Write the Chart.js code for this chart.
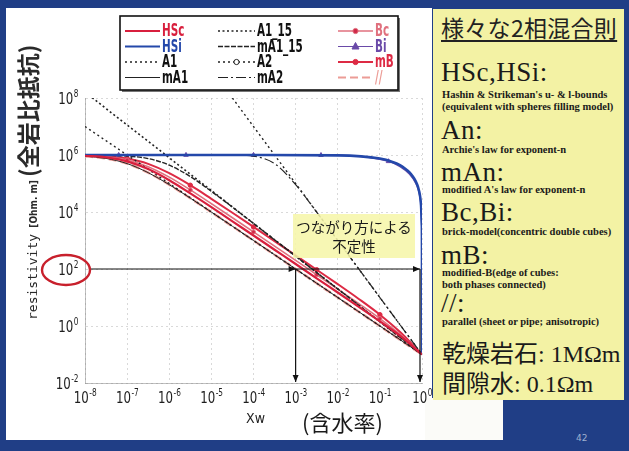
<!DOCTYPE html>
<html>
<head>
<meta charset="utf-8">
<script src="https://cdn.jsdelivr.net/npm/chart.js@4.4.1/dist/chart.umd.min.js"></script>
<style>
  html, body { margin: 0; padding: 0; }
  body { width: 629px; height: 451px; background: #203e86; position: relative; overflow: hidden; }
  .a { position: absolute; white-space: nowrap; }
  #panel { left: 6px; top: 8px; width: 426px; height: 432px; background: #fff; }
  #panel2 { left: 425px; top: 398px; width: 78px; height: 42px; background: #fbfbf8; }
  #side { left: 433px; top: 9px; width: 191px; height: 391px; background: #f3f2a4; }
  #wrap { left: 0; top: 0; width: 432px; height: 440px; }
  #ytitle { left: -128px; top: 150px; width: 310px; height: 30px; line-height: 30px; transform: rotate(-90deg); color: #2a2a2a; }
  .mono { font-family: "DejaVu Sans Mono", monospace; font-size: 13px; }
  .oh { font-family: "DejaVu Sans Condensed", sans-serif; font-size: 10px; font-weight: bold; }
  .jp { font-family: "Noto Sans CJK JP", sans-serif; font-weight: bold; }
  .nar { font-family: "Liberation Sans Narrow", "DejaVu Sans Condensed", sans-serif; }
  .serif { font-family: "Liberation Serif", "DejaVu Serif", serif; color: #1a1a1a; }
  .small { font-size: 10.5px; font-weight: bold; line-height: 12px; }
  .big { font-size: 27px; line-height: 28px; letter-spacing: 0.5px; }
  #note { left: 293px; top: 214px; width: 122px; height: 44px; background: rgba(246,246,170,0.88);
          font-family: "Noto Sans CJK JP", sans-serif; font-size: 14.5px; line-height: 19px; text-align: center; color: #1a1a1a; padding-top: 3px; box-sizing: border-box; }
</style>
</head>
<body>
<div id="panel" class="a"></div>
<div id="panel2" class="a"></div>
<div id="side" class="a"></div>
<div id="wrap" class="a"><canvas id="chart"></canvas></div>

<div id="ytitle" class="a"><span class="mono">resistivity</span><span class="oh">&nbsp;&nbsp;[Ohm. m]&nbsp;</span><span class="jp" style="font-size:23px">(全岩比抵抗)</span></div>
<div class="a nar" style="left:246px;top:410px;font-size:14px;color:#222">Xw</div>
<div class="a jp" style="left:302px;top:405px;font-size:22px;font-weight:normal;color:#1a1a1a">(含水率)</div>
<div id="note" class="a">つながり方による<br>不定性</div>

<div class="a jp" style="left:441px;top:10px;font-size:23px;font-weight:normal;letter-spacing:0.3px;color:#222;text-decoration:underline;text-underline-offset:3px">様々な2相混合則</div>
<div class="a serif big" style="left:441px;top:58px">HSc,HSi:</div>
<div class="a serif small" style="left:442px;top:89px">Hashin &amp; Strikeman's u- &amp; l-bounds</div>
<div class="a serif small" style="left:442px;top:101px">(equivalent with spheres filling model)</div>
<div class="a serif big" style="left:441px;top:116px">An:</div>
<div class="a serif small" style="left:442px;top:144px">Archie's law for exponent-n</div>
<div class="a serif big" style="left:441px;top:158px">mAn:</div>
<div class="a serif small" style="left:442px;top:184px">modified A's law for exponent-n</div>
<div class="a serif big" style="left:441px;top:198px">Bc,Bi:</div>
<div class="a serif small" style="left:442px;top:226px">brick-model(concentric double cubes)</div>
<div class="a serif big" style="left:441px;top:241px">mB:</div>
<div class="a serif small" style="left:442px;top:267px">modified-B(edge of cubes:</div>
<div class="a serif small" style="left:442px;top:279px">both phases connected)</div>
<div class="a serif big" style="left:441px;top:289px">//:</div>
<div class="a serif small" style="left:442px;top:316px">parallel (sheet or pipe; anisotropic)</div>
<div class="a" style="left:442px;top:337px;font-size:24px;line-height:30px;color:#1a1a1a"><span class="jp" style="font-weight:normal">乾燥岩石</span><span class="serif">: 1MΩm</span></div>
<div class="a" style="left:442px;top:367px;font-size:24px;line-height:30px;color:#1a1a1a"><span class="jp" style="font-weight:normal">間隙水</span><span class="serif">: 0.1Ωm</span></div>
<div class="a" style="left:576px;top:433px;font-size:9px;color:#9fb0d0;font-family:'DejaVu Sans',sans-serif">42</div>

<script>
// water content grid shared by most curves (half decades)
const xw = [1e-8, 3.16e-8, 1e-7, 3.16e-7, 1e-6, 3.16e-6, 1e-5, 3.16e-5, 1e-4, 3.16e-4, 1e-3, 3.16e-3, 1e-2, 3.16e-2, 0.1, 0.316, 1];
const hsc    = [9.4e5, 8.3e5, 6.0e5, 3.2e5, 1.3e5, 4.5e4, 1.48e4, 4.7e3, 1.5e3, 474, 150, 47, 15, 4.7, 1.45, 0.43, 0.1];
const par    = [9.1e5, 7.6e5, 5.0e5, 2.4e5, 9.1e4, 3.07e4, 9.9e3, 3.16e3, 1.0e3, 316, 100, 31.6, 10, 3.16, 1.0, 0.316, 0.1];
const mA1    = [9.1e5, 7.6e5, 5.0e5, 2.4e5, 9.1e4, 3.07e4, 9.9e3, 3.16e3, 1.0e3, 316, 100, 31.6, 10, 3.16, 1.0, 0.316, 0.1];
const mA1_15 = [9.9e5, 9.8e5, 9.2e5, 7.5e5, 4.4e5, 1.75e5, 5.3e4, 1.48e4, 3.97e3, 1.06e3, 282, 75, 20, 5.3, 1.41, 0.38, 0.1];
const mA2    = [1e6, 1e6, 1e6, 1e6, 1e6, 1e6, 9.99e5, 9.9e5, 9.1e5, 5.0e5, 9.1e4, 9.9e3, 1.0e3, 100, 10, 1.0, 0.1];
const bc     = [9.5e5, 8.6e5, 6.7e5, 3.9e5, 1.67e5, 5.95e4, 1.96e4, 6.3e3, 2.0e3, 632, 200, 63, 19.8, 6.1, 1.82, 0.48, 0.1];
const mB     = [9.7e5, 9.05e5, 7.5e5, 4.9e5, 2.3e5, 8.7e4, 2.9e4, 9.4e3, 2.99e3, 949, 300, 94, 29.4, 8.9, 2.5, 0.58, 0.1];

// insulating-matrix curves need points close to Xw = 1
const xwHsi = [1e-8, 1e-6, 1e-4, 1e-2, 0.1, 0.2, 0.3, 0.4, 0.5, 0.6, 0.7, 0.8, 0.9, 0.95, 0.99, 0.999, 1];
const hsi   = [1e6, 1e6, 1e6, 9.7e5, 7.5e5, 5.7e5, 4.4e5, 3.3e5, 2.5e5, 1.8e5, 1.25e5, 7.7e4, 3.6e4, 1.7e4, 3.4e3, 330, 0.1];
const xwBi  = [1e-8, 6.3e-8, 2.5e-6, 1e-4, 4e-3, 0.16, 0.3, 0.5, 0.7, 0.8, 0.9, 0.95, 0.99, 0.999, 1];
const bi    = [1e6, 1e6, 1e6, 1e6, 9.9e5, 6.0e5, 3.9e5, 2.15e5, 1.05e5, 6.5e4, 3.0e4, 1.45e4, 2.9e3, 290, 0.1];

// straight Archie lines (end points)
const xwA1 = [1e-8, 1], a1 = [1e7, 0.1];
const xwA1_15 = [1e-8, 1], a1_15 = [1.6e8, 0.1];
const xwA2 = [3.16e-5, 1], a2 = [1e8, 0.1];

const xTicks = [1e-8, 1e-7, 1e-6, 1e-5, 1e-4, 1e-3, 1e-2, 1e-1, 1];
const yTicks = [1e-2, 1, 1e2, 1e4, 1e6, 1e8];
const arrowRho = 100;
const arrowXw = [1e-3, 1];

const pts = (xs, ys) => xs.map((v, i) => ({ x: v, y: ys[i] }));
const markAt = (idx, r) => c => idx.includes(c.dataIndex) ? r : 0;

const datasets = [
  { label: 'HSc', data: pts(xw, hsc), borderColor: '#d81f3d', borderWidth: 2.2 },
  { label: 'HSi', data: pts(xwHsi, hsi), borderColor: '#2448aa', borderWidth: 2.6 },
  { label: 'A1', data: pts(xwA1, a1), borderColor: '#222', borderWidth: 1.4, borderDash: [2, 3] },
  { label: 'mA1', data: pts(xw, mA1), borderColor: '#222', borderWidth: 1 },
  { label: 'A1_15', data: pts(xwA1_15, a1_15), borderColor: '#222', borderWidth: 1.6, borderDash: [2, 2.5] },
  { label: 'mA1_15', data: pts(xw, mA1_15), borderColor: '#222', borderWidth: 1.4, borderDash: [5, 1.5] },
  { label: 'A2', data: pts(xwA2, a2), borderColor: '#222', borderWidth: 1.4, borderDash: [2, 3], pointStyle: 'circle', pointBackgroundColor: '#fff' },
  { label: 'mA2', data: pts(xw, mA2), borderColor: '#222', borderWidth: 1.2, borderDash: [10, 3, 2, 3] },
  { label: 'Bc', data: pts(xw, bc), borderColor: '#e0707e', borderWidth: 1.6, pointStyle: 'circle', pointRadius: markAt([2, 5, 8, 11, 14], 2), pointBackgroundColor: '#d02848' },
  { label: 'Bi', data: pts(xwBi, bi), borderColor: '#6a4aa8', borderWidth: 1.2, pointStyle: 'triangle', pointRadius: markAt([1, 2, 3, 4, 5], 2.6), pointBackgroundColor: '#6a4aa8' },
  { label: 'mB', data: pts(xw, mB), borderColor: '#dd2a44', borderWidth: 2, pointStyle: 'circle', pointRadius: markAt([2, 5, 8, 11, 14], 2.2), pointBackgroundColor: '#dd2a44' },
  { label: '//', data: pts(xw, par), borderColor: '#ec9c96', borderWidth: 2.6, borderDash: [8, 4] }
];
datasets.forEach(d => {
  d.fill = false;
  d.cubicInterpolationMode = 'monotone';
  if (d.pointRadius === undefined) d.pointRadius = 0;
  d.pointBorderColor = d.borderColor;
  d.pointBorderWidth = 1;
});

const narrow = '"Liberation Sans Narrow", "DejaVu Sans Condensed", sans-serif';

// text squeezed horizontally, to get the narrow look of the slide font
function squeezed(ctx, text, x, y, sx) {
  ctx.save();
  ctx.translate(x, y);
  ctx.scale(sx, 1);
  ctx.fillText(text, 0, 0);
  ctx.restore();
  return ctx.measureText(text).width * sx;
}

function drawPow(ctx, x, y, exp, align) {
  const sx = 0.82;
  ctx.font = '16px ' + narrow;
  const w1 = ctx.measureText('10').width * sx;
  ctx.font = '10px ' + narrow;
  const w2 = ctx.measureText(String(exp)).width * sx;
  const x0 = align === 'center' ? x - (w1 + w2) / 2 : x - w1 - w2;
  ctx.textAlign = 'left';
  ctx.textBaseline = 'alphabetic';
  ctx.font = '16px ' + narrow;
  squeezed(ctx, '10', x0, y, sx);
  ctx.font = '10px ' + narrow;
  squeezed(ctx, String(exp), x0 + w1 + 0.5, y - 7, sx);
}

function arrow(ctx, x1, y1, x2, y2) {
  ctx.beginPath(); ctx.moveTo(x1, y1); ctx.lineTo(x2, y2); ctx.stroke();
  head(ctx, x2, y2, Math.atan2(y2 - y1, x2 - x1));
}
function head(ctx, x, y, ang) {
  ctx.beginPath();
  ctx.moveTo(x, y);
  ctx.lineTo(x - 7 * Math.cos(ang) + 3 * Math.sin(ang), y - 7 * Math.sin(ang) - 3 * Math.cos(ang));
  ctx.lineTo(x - 7 * Math.cos(ang) - 3 * Math.sin(ang), y - 7 * Math.sin(ang) + 3 * Math.cos(ang));
  ctx.closePath(); ctx.fill();
}

const decorations = {
  id: 'decorations',
  afterDraw(chart) {
    const { ctx, chartArea: a, scales: { x, y } } = chart;
    ctx.save();
    ctx.fillStyle = '#1e1e1e';
    x.ticks.forEach(t => drawPow(ctx, x.getPixelForValue(t.value), a.bottom + 20, Math.round(Math.log10(t.value)), 'center'));
    y.ticks.forEach(t => drawPow(ctx, a.left - 7, y.getPixelForValue(t.value) + 6, Math.round(Math.log10(t.value)), 'right'));

    // arrows: same resistivity, very different water content
    const ya = y.getPixelForValue(arrowRho);
    ctx.strokeStyle = '#111'; ctx.fillStyle = '#111'; ctx.lineWidth = 1.2;
    arrow(ctx, a.left + 4, ya, x.getPixelForValue(arrowXw[1]) - 2, ya);
    head(ctx, x.getPixelForValue(arrowXw[0]), ya, 0);
    arrowXw.forEach(v => {
      const xp = x.getPixelForValue(v) - (v === 1 ? 2 : 0);
      arrow(ctx, xp, ya, xp, a.bottom - 1);
    });

    // red ellipse around the 10^2 label
    ctx.strokeStyle = '#c8202c'; ctx.lineWidth = 2.4;
    ctx.beginPath();
    ctx.ellipse(a.left - 19, ya + 1, 24, 15, 0, 0, Math.PI * 2);
    ctx.stroke();

    // legend box
    const L = { x: 120, y: 16, w: 278, h: 74 };
    ctx.fillStyle = '#777';
    ctx.fillRect(L.x + 2, L.y + 2, L.w, L.h);
    ctx.fillStyle = '#fff';
    ctx.fillRect(L.x, L.y, L.w, L.h);
    ctx.strokeStyle = '#111'; ctx.lineWidth = 1.6;
    ctx.strokeRect(L.x, L.y, L.w, L.h);
    const cols = [125, 218, 338];
    chart.data.datasets.forEach((ds, i) => {
      const c = Math.floor(i / 4), r = i % 4;
      const x0 = cols[c], yy = L.y + 15 + r * 15.5, len = c === 1 ? 37 : 35;
      ctx.strokeStyle = ds.borderColor;
      ctx.lineWidth = Math.min(ds.borderWidth, 2);
      ctx.setLineDash(ds.borderDash || []);
      ctx.beginPath(); ctx.moveTo(x0, yy); ctx.lineTo(x0 + len, yy); ctx.stroke();
      ctx.setLineDash([]);
      if (ds.pointStyle) {
        const mx = x0 + len / 2;
        ctx.fillStyle = ds.pointBackgroundColor; ctx.strokeStyle = ds.borderColor; ctx.lineWidth = 1;
        ctx.beginPath();
        if (ds.pointStyle === 'triangle') {
          ctx.moveTo(mx, yy - 4); ctx.lineTo(mx + 3.5, yy + 2.5); ctx.lineTo(mx - 3.5, yy + 2.5); ctx.closePath();
        } else {
          ctx.arc(mx, yy, 2.6, 0, Math.PI * 2);
        }
        ctx.fill(); ctx.stroke();
      }
      ctx.fillStyle = ds.borderColor === '#222' ? '#111' : ds.borderColor;
      ctx.font = 'bold 17px ' + narrow;
      ctx.textAlign = 'left'; ctx.textBaseline = 'middle';
      squeezed(ctx, ds.label, x0 + len + 2, yy + 1, 0.68);
    });
    ctx.restore();
  }
};

new Chart(document.getElementById('chart'), {
  type: 'line',
  data: { datasets },
  options: {
    responsive: true,
    maintainAspectRatio: false,
    animation: false,
    events: [],
    layout: { padding: { left: 85, top: 98, right: 10, bottom: 57 } },
    plugins: { legend: { display: false }, tooltip: { enabled: false } },
    scales: {
      x: {
        type: 'logarithmic', min: 1e-8, max: 1,
        afterBuildTicks: s => { s.ticks = xTicks.map(v => ({ value: v })); },
        ticks: { display: false },
        grid: { color: 'rgba(130,130,130,0.3)', drawTicks: false },
        border: { display: true, color: 'rgba(130,130,130,0.5)', dash: [2, 3] }
      },
      y: {
        type: 'logarithmic', min: 1e-2, max: 1e8,
        afterBuildTicks: s => { s.ticks = yTicks.map(v => ({ value: v })); },
        ticks: { display: false },
        grid: { color: 'rgba(130,130,130,0.3)', drawTicks: false },
        border: { display: true, color: 'rgba(130,130,130,0.5)', dash: [2, 3] }
      }
    }
  },
  plugins: [decorations]
});
</script>
</body>
</html>
